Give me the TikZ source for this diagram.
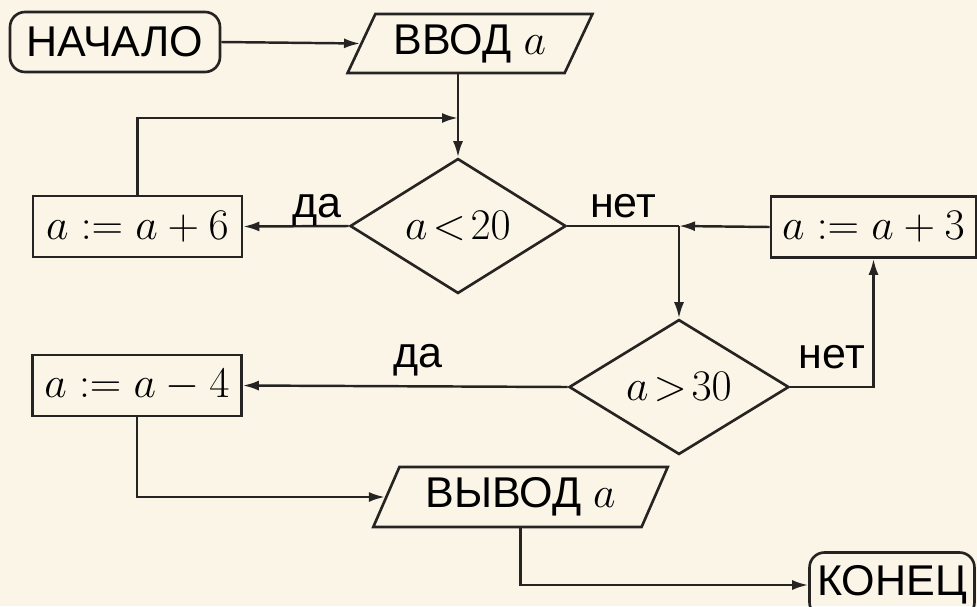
\documentclass[tikz,border=0pt]{standalone}
\usepackage{fontspec}
\newfontfamily\flowsans{Liberation Sans}
\usetikzlibrary{arrows.meta,shapes.geometric}
\definecolor{paper}{RGB}{251,245,232}
\definecolor{ink}{RGB}{38,36,34}

\begin{document}
\begin{tikzpicture}[
  x=0.02cm, y=-0.02cm,
  font=\flowsans\fontsize{24.5}{28}\selectfont,
  trm/.style={draw=ink, line width=1.5pt, rounded corners=0.3cm, inner sep=0pt},
  io/.style={draw=ink, line width=1.5pt, trapezium, trapezium stretches=true, inner sep=0pt},
  prc/.style={draw=ink, line width=1.5pt, minimum width=4.18cm, minimum height=1.22cm, inner sep=0pt, font=\fontsize{24.5}{28}\selectfont},
  dec/.style={draw=ink, line width=1.5pt, diamond, inner sep=0pt, font=\fontsize{24.5}{28}\selectfont},
  arr/.style={-{Latex[length=3.2mm,width=2mm]}, line width=1.4pt, draw=ink},
  lnk/.style={line width=1.4pt, draw=ink},
  lbl/.style={font=\flowsans\fontsize{24.5}{28}\selectfont, inner sep=2pt, text depth=0.2em}
]
\fill[paper, use as bounding box] (0,0) rectangle (977,606);
% terminals and input/output
\node[trm, minimum width=4.2cm, minimum height=1.2cm] (start) at (115,42) {НАЧАЛО};
\node[io, trapezium left angle=60, trapezium right angle=120, minimum width=4.9cm, minimum height=1.18cm] (inp) at (470,43.5) {ВВОД $a$};
\node[io, trapezium left angle=62, trapezium right angle=118, minimum width=5.9cm, minimum height=1.2cm] (out) at (520.5,497) {ВЫВОД $a$};
\node[trm, minimum width=3.3cm, minimum height=1.3cm] (stop) at (892,585) {КОНЕЦ};
% conditions
\node[dec, minimum width=4.32cm, minimum height=1.96cm] (lt) at (458,226) {$a\!<\!20$};
\node[dec, minimum width=4.4cm, minimum height=2cm] (gt) at (679,387) {$a\!>\!30$};
% assignments
\node[prc] (add6) at (137.5,226.5) {$a:=a+6$};
\node[prc, minimum width=4.1cm] (add3) at (873.5,227) {$a:=a+3$};
\node[prc] (sub4) at (137,385.5) {$a:=a-4$};
\coordinate (mrg) at (458,118);
\coordinate (jn) at (gt.north |- lt.east);
\draw[arr] (start.east) -- (inp.west);
\draw[arr] (inp.south -| lt.north) -- (lt.north);
\draw[arr] (add6.north) |- (mrg);
\draw[arr] (lt.west) -- node[lbl, above, pos=0.3] {да} (add6.east);
\draw[lnk] (lt.east) -- node[lbl, above] {нет} (jn);
\draw[arr] (add3.west) -- (jn);
\draw[arr] (jn) -- (gt.north);
\draw[arr] (gt.west) -- node[lbl, above=6pt, pos=0.46] {да} (sub4.east);
\draw[arr] (gt.east) -| node[lbl, above=6pt, pos=0.25] {нет} (add3.south);
\draw[arr] (sub4.south) |- (out.west);
\draw[arr] (out.south) |- (stop.west);
\end{tikzpicture}
\end{document}
